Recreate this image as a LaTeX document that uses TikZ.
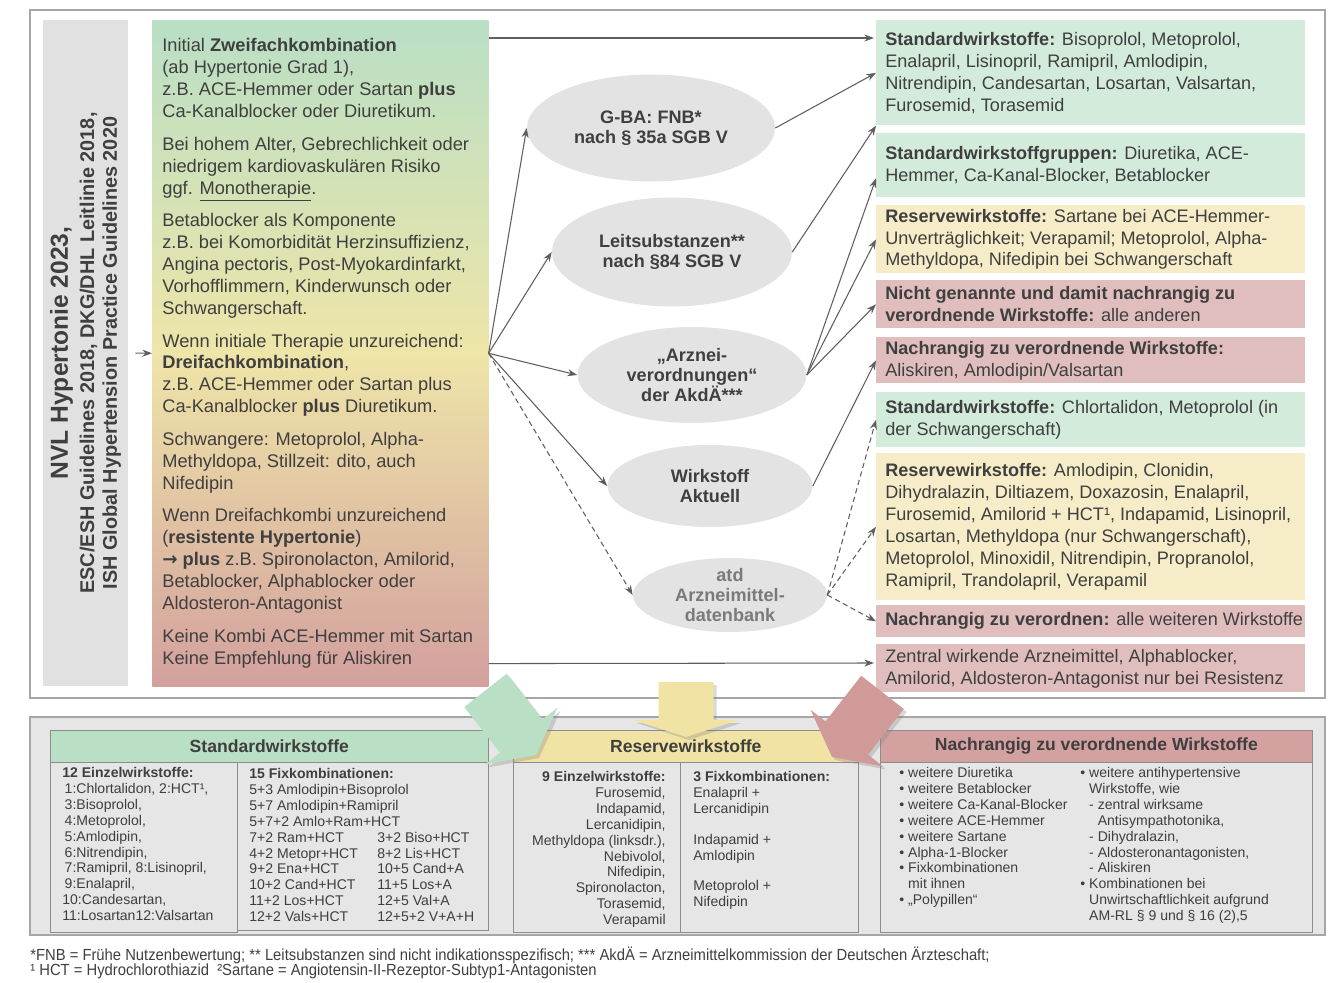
\documentclass[tikz,border=0pt]{standalone}
\usepackage{fontspec}
\setmainfont{Liberation Sans}
\newfontfamily\narrowfont[FakeStretch=0.92]{Liberation Sans}
\newfontfamily\symfont{DejaVu Sans}
\usetikzlibrary{arrows.meta,calc,shapes.geometric,shadows}

\definecolor{ink}{HTML}{3F3F3F}
\definecolor{atdgray}{HTML}{7A7A7A}
\definecolor{framegray}{HTML}{A6A6A6}
\definecolor{boxgray}{HTML}{8C8C8C}
\definecolor{arrowgray}{HTML}{5E5E5E}
\definecolor{guidegray}{HTML}{E1E1E1}
\definecolor{panelgray}{HTML}{E6E6E6}
\definecolor{ellipsegray}{HTML}{E3E3E3}
\definecolor{gradtop}{HTML}{B9DFC5}
\definecolor{gradmid}{HTML}{EEE5A8}
\definecolor{gradbot}{HTML}{D3A09E}
\definecolor{stdgreen}{HTML}{D3EBDA}
\definecolor{resyellow}{HTML}{F6EDC8}
\definecolor{nachred}{HTML}{E0BEBD}
\definecolor{hdrgreen}{HTML}{B9DFC4}
\definecolor{hdryellow}{HTML}{F1E3A4}
\definecolor{hdrred}{HTML}{D3A19F}
\definecolor{arrred}{HTML}{CF9A98}

\newcommand{\DrugBox}[5]%
% name, top edge, height, colour, text
{   \node[drugbox, fill=#4, minimum height=#3] (#1) at (876,#2) {};
    \node[drugtext] (#1-text) at ($(#1.west)+(9,0)$) {#5};
}
\newcommand{\BlockArrow}[8]%
% tip x, tip y, direction, length, head length, head width, shaft width, colour
{   \fill[#8, drop shadow={opacity=0.3, shadow xshift=0.6mm, shadow yshift=-0.6mm},
        shift={(#1,#2)}, rotate=#3]
        (0,0) -- (-#5,#6/2) -- (-#5,#7/2) -- (-#4,#7/2) -- (-#4,-#7/2)
        -- (-#5,-#7/2) -- (-#5,-#6/2) -- cycle;
}
% zwei Spalten in der Fixkombi-Liste
\newcommand{\Pair}[2]{\makebox[2.56cm][l]{#1}#2}

\begin{document}
\begin{tikzpicture}
[   x=0.02cm, y=-0.02cm,
    every node/.style={text=ink},
    frame/.style={draw=framegray, line width=0.6pt},
    drugbox/.style={anchor=north west, minimum width=8.58cm, inner sep=0},
    drugtext/.style={anchor=west, align=left, inner sep=0,
        font=\fontsize{10.3}{12.5}\selectfont},
    source/.style={ellipse, fill=ellipsegray, inner sep=-4pt, align=center,
        font=\fontsize{10.3}{11.3}\selectfont\bfseries},
    arr/.style={-{Stealth[length=5.5pt,width=4pt]}, draw=arrowgray, line width=0.6pt},
    weak/.style={dash pattern=on 3pt off 2pt},
    header/.style={anchor=north west, draw=boxgray, minimum height=0.64cm,
        inner sep=0, font=\fontsize{10}{12}\selectfont\bfseries},
    sub/.style={anchor=north west, draw=boxgray, fill=panelgray,
        minimum height=3.4cm, inner sep=0},
    small/.style={anchor=north west, align=left, inner sep=0,
        font=\fontsize{8}{9.05}\selectfont}
]
    \useasboundingbox (0,0) rectangle (1333,983);
    \fill[white] (0,0) rectangle (1333,983);

    % oberer Rahmen
    \draw[frame] (30,10) rectangle (1325,698);

    % Leitlinien
    \node[fill=guidegray, rotate=90, minimum width=13.32cm, minimum height=1.7cm,
        inner sep=0, align=center, font=\fontsize{11.3}{13}\selectfont\bfseries]
        (guide) at (85.5,353)
        {{\fontsize{14}{16}\selectfont NVL Hypertonie 2023,}\\[2pt]
         ESC/ESH Guidelines 2018, DKG/DHL Leitlinie 2018,\\
         ISH Global Hypertension Practice Guidelines 2020};

    % Therapieempfehlungen
    \node[anchor=north west, minimum width=6.72cm, minimum height=13.32cm, inner sep=0,
        top color=gradtop, bottom color=gradbot, middle color=gradmid]
        (therapy) at (152,20) {};
    \node[anchor=west, align=left, inner sep=0, font=\fontsize{10.4}{12.5}\selectfont]
        (therapy-text) at ($(therapy.west)+(10,0)$)
        {Initial \textbf{Zweifachkombination}\\
         (ab Hypertonie Grad 1),\\
         z.B. ACE-Hemmer oder Sartan \textbf{plus}\\
         Ca-Kanalblocker oder Diuretikum.\\[6pt]
         Bei hohem Alter, Gebrechlichkeit oder\\
         niedrigem kardiovaskulären Risiko\\
         ggf. \underline{Monotherapie}.\\[6pt]
         Betablocker als Komponente\\
         z.B. bei Komorbidität Herzinsuffizienz,\\
         Angina pectoris, Post-Myokardinfarkt,\\
         Vorhofflimmern, Kinderwunsch oder\\
         Schwangerschaft.\\[6pt]
         Wenn initiale Therapie unzureichend:\\
         \textbf{Dreifachkombination},\\
         z.B. ACE-Hemmer oder Sartan plus\\
         Ca-Kanalblocker \textbf{plus} Diuretikum.\\[6pt]
         Schwangere: Metoprolol, Alpha-\\
         Methyldopa, Stillzeit: dito, auch\\
         Nifedipin\\[6pt]
         Wenn Dreifachkombi unzureichend\\
         (\textbf{resistente Hypertonie})\\
         {\symfont\bfseries →} \textbf{plus} z.B. Spironolacton, Amilorid,\\
         Betablocker, Alphablocker oder\\
         Aldosteron-Antagonist\\[6pt]
         Keine Kombi ACE-Hemmer mit Sartan\\
         Keine Empfehlung für Aliskiren};
    \draw[arr, shorten <=0.14cm] (guide.south) -- (therapy.west);

    % Quellen
    \node[source, minimum width=4.96cm, minimum height=2.14cm] (gba) at (651,128)
        {G-BA: FNB*\\nach § 35a SGB V};
    \node[source, minimum width=4.8cm, minimum height=2.18cm] (leits) at (672,252)
        {Leitsubstanzen**\\nach §84 SGB V};
    \node[source, minimum width=4.58cm, minimum height=1.92cm] (akdae) at (692,375)
        {„Arznei-\\verordnungen“\\der AkdÄ***};
    \node[source, minimum width=4.1cm, minimum height=1.64cm] (aktuell) at (710,486)
        {Wirkstoff\\Aktuell};
    \node[source, minimum width=3.88cm, minimum height=1.48cm, text=atdgray] (atd) at (730,595)
        {atd\\Arzneimittel-\\datenbank};

    % Wirkstofflisten
    \DrugBox{std1}{20}{2.1cm}{stdgreen}{\textbf{Standardwirkstoffe:} Bisoprolol, Metoprolol,\\
        Enalapril, Lisinopril, Ramipril, Amlodipin,\\
        Nitrendipin, Candesartan, Losartan, Valsartan,\\
        Furosemid, Torasemid}
    \DrugBox{grp}{133}{1.28cm}{stdgreen}{\textbf{Standardwirkstoffgruppen:} Diuretika, ACE-\\
        Hemmer, Ca-Kanal-Blocker, Betablocker}
    \DrugBox{res1}{205}{1.36cm}{resyellow}{\textbf{Reservewirkstoffe:} Sartane bei ACE-Hemmer-\\
        Unverträglichkeit; Verapamil; Metoprolol, Alpha-\\
        Methyldopa, Nifedipin bei Schwangerschaft}
    \DrugBox{rest1}{280}{0.96cm}{nachred}{\textbf{Nicht genannte und damit nachrangig zu}\\
        \textbf{verordnende Wirkstoffe:} alle anderen}
    \DrugBox{nach1}{337}{0.92cm}{nachred}{\textbf{Nachrangig zu verordnende Wirkstoffe:}\\
        Aliskiren, Amlodipin/Valsartan}
    \DrugBox{std2}{392}{1.1cm}{stdgreen}{\textbf{Standardwirkstoffe:} Chlortalidon, Metoprolol (in\\
        der Schwangerschaft)}
    \DrugBox{res2}{453}{2.94cm}{resyellow}{\textbf{Reservewirkstoffe:} Amlodipin, Clonidin,\\
        Dihydralazin, Diltiazem, Doxazosin, Enalapril,\\
        Furosemid, Amilorid + HCT¹, Indapamid, Lisinopril,\\
        Losartan, Methyldopa (nur Schwangerschaft),\\
        Metoprolol, Minoxidil, Nitrendipin, Propranolol,\\
        Ramipril, Trandolapril, Verapamil}
    \DrugBox{nach2}{605}{0.64cm}{nachred}{\textbf{Nachrangig zu verordnen:} alle weiteren Wirkstoffe}
    \DrugBox{zentral}{644}{0.96cm}{nachred}{Zentral wirkende Arzneimittel, Alphablocker,\\
        Amilorid, Aldosteron-Antagonist nur bei Resistenz}

    % Verbindungen
    \draw[arr] ($(therapy.north east)+(0,18)$) -- ($(std1.north west)+(-2,18)$);
    \draw[arr] (therapy.east) -- (gba.west);
    \draw[arr] (therapy.east) -- (leits.west);
    \draw[arr] (therapy.east) -- (akdae.west);
    \draw[arr] (therapy.east) -- (aktuell.west);
    \draw[arr, weak] (therapy.east) -- (atd.west);
    \draw[arr] ($(therapy.south east)+(0,-23)$) -- ($(zentral.north west)+(-2,19)$);
    \draw[arr] (gba.east) -- (std1.west);
    \draw[arr] (leits.east) -- (std1.south west);
    \draw[arr] (akdae.east) -- ($(grp.south west)!0.3!(grp.north west)$);
    \draw[arr] (akdae.east) -- (res1.west);
    \draw[arr] (akdae.east) -- (rest1.west);
    \draw[arr] (aktuell.east) -- (nach1.west);
    \draw[arr, weak] (atd.east) -- (std2.west);
    \draw[arr, weak] (atd.east) -- (res2.west);
    \draw[arr, weak] (atd.east) -- (nach2.west);

    % unteres Feld
    \draw[frame, fill=panelgray] (30,717) rectangle (1325,935);
    \node[header, fill=hdrgreen, minimum width=8.76cm] (std-head) at (50,730) {Standardwirkstoffe};
    \node[header, fill=hdryellow, minimum width=6.9cm] (res-head) at (513,730) {Reservewirkstoffe};
    \node[header, fill=hdrred, minimum width=8.64cm] (nach-head) at (880,730)
        {Nachrangig zu verordnende Wirkstoffe};
    \node[sub, minimum width=3.74cm] (std-single) at (50,762) {};
    \node[sub, minimum width=5.02cm, minimum height=3.36cm] (std-fix) at (237,762) {};
    \node[sub, minimum width=3.34cm] (res-single) at (513,762) {};
    \node[sub, minimum width=3.56cm] (res-fix) at (680,762) {};
    \node[sub, minimum width=8.64cm] (nach-list) at (880,762) {};

    \node[small] (std-single-text) at (62,767)
        {\textbf{12 Einzelwirkstoffe:}\\
         \,1:Chlortalidon, 2:HCT¹,\\
         \,3:Bisoprolol,\\
         \,4:Metoprolol,\\
         \,5:Amlodipin,\\
         \,6:Nitrendipin,\\
         \,7:Ramipril, 8:Lisinopril,\\
         \,9:Enalapril,\\
         10:Candesartan,\\
         11:Losartan12:Valsartan};
    \node[small] (std-fix-text) at (249,768)
        {\textbf{15 Fixkombinationen:}\\
         5+3 Amlodipin+Bisoprolol\\
         5+7 Amlodipin+Ramipril\\
         5+7+2 Amlo+Ram+HCT\\
         \Pair{7+2 Ram+HCT}{3+2 Biso+HCT}\\
         \Pair{4+2 Metopr+HCT}{8+2 Lis+HCT}\\
         \Pair{9+2 Ena+HCT}{10+5 Cand+A}\\
         \Pair{10+2 Cand+HCT}{11+5 Los+A}\\
         \Pair{11+2 Los+HCT}{12+5 Val+A}\\
         \Pair{12+2 Vals+HCT}{12+5+2 V+A+H}};
    \node[small, anchor=north east, align=right] (res-single-text) at (666,771)
        {\textbf{9 Einzelwirkstoffe:}\\
         Furosemid,\\ Indapamid,\\ Lercanidipin,\\ Methyldopa (linksdr.),\\
         Nebivolol,\\ Nifedipin,\\ Spironolacton,\\ Torasemid,\\ Verapamil};
    \node[small] (res-fix-text) at (693,771)
        {\textbf{3 Fixkombinationen:}\\
         Enalapril +\\ Lercanidipin\\[8.5pt]
         Indapamid +\\ Amlodipin\\[8.5pt]
         Metoprolol +\\ Nifedipin};
    \node[small] (nach-left) at (899,767)
        {• weitere Diuretika\\
         • weitere Betablocker\\
         • weitere Ca-Kanal-Blocker\\
         • weitere ACE-Hemmer\\
         • weitere Sartane\\
         • Alpha-1-Blocker\\
         • Fixkombinationen\\
         \phantom{• }mit ihnen\\
         • „Polypillen“};
    \node[small] (nach-right) at (1080,767)
        {• weitere antihypertensive\\
         \phantom{• }Wirkstoffe, wie\\
         \phantom{• }- zentral wirksame\\
         \phantom{• - }Antisympathotonika,\\
         \phantom{• }- Dihydralazin,\\
         \phantom{• }- Aldosteronantagonisten,\\
         \phantom{• }- Aliskiren\\
         • Kombinationen bei\\
         \phantom{• }Unwirtschaftlichkeit aufgrund\\
         \phantom{• }AM-RL § 9 und § 16 (2),5};

    % Pfeile zum unteren Feld
    \BlockArrow{536}{755}{-52}{82}{24}{92}{54}{hdrgreen}
    \BlockArrow{686}{737}{-90}{55}{17}{105}{55}{hdryellow}
    \BlockArrow{832}{757}{-128}{82}{24}{92}{54}{arrred}

    % Fussnoten
    \node[anchor=north west, align=left, inner sep=0,
        font=\narrowfont\fontsize{9.15}{8.6}\selectfont] (notes) at (30,947)
        {*FNB = Frühe Nutzenbewertung; ** Leitsubstanzen sind nicht indikationsspezifisch; *** AkdÄ = Arzneimittelkommission der Deutschen Ärzteschaft;\\
         ¹ HCT = Hydrochlorothiazid\ \ ²Sartane = Angiotensin-II-Rezeptor-Subtyp1-Antagonisten};
\end{tikzpicture}
\end{document}
